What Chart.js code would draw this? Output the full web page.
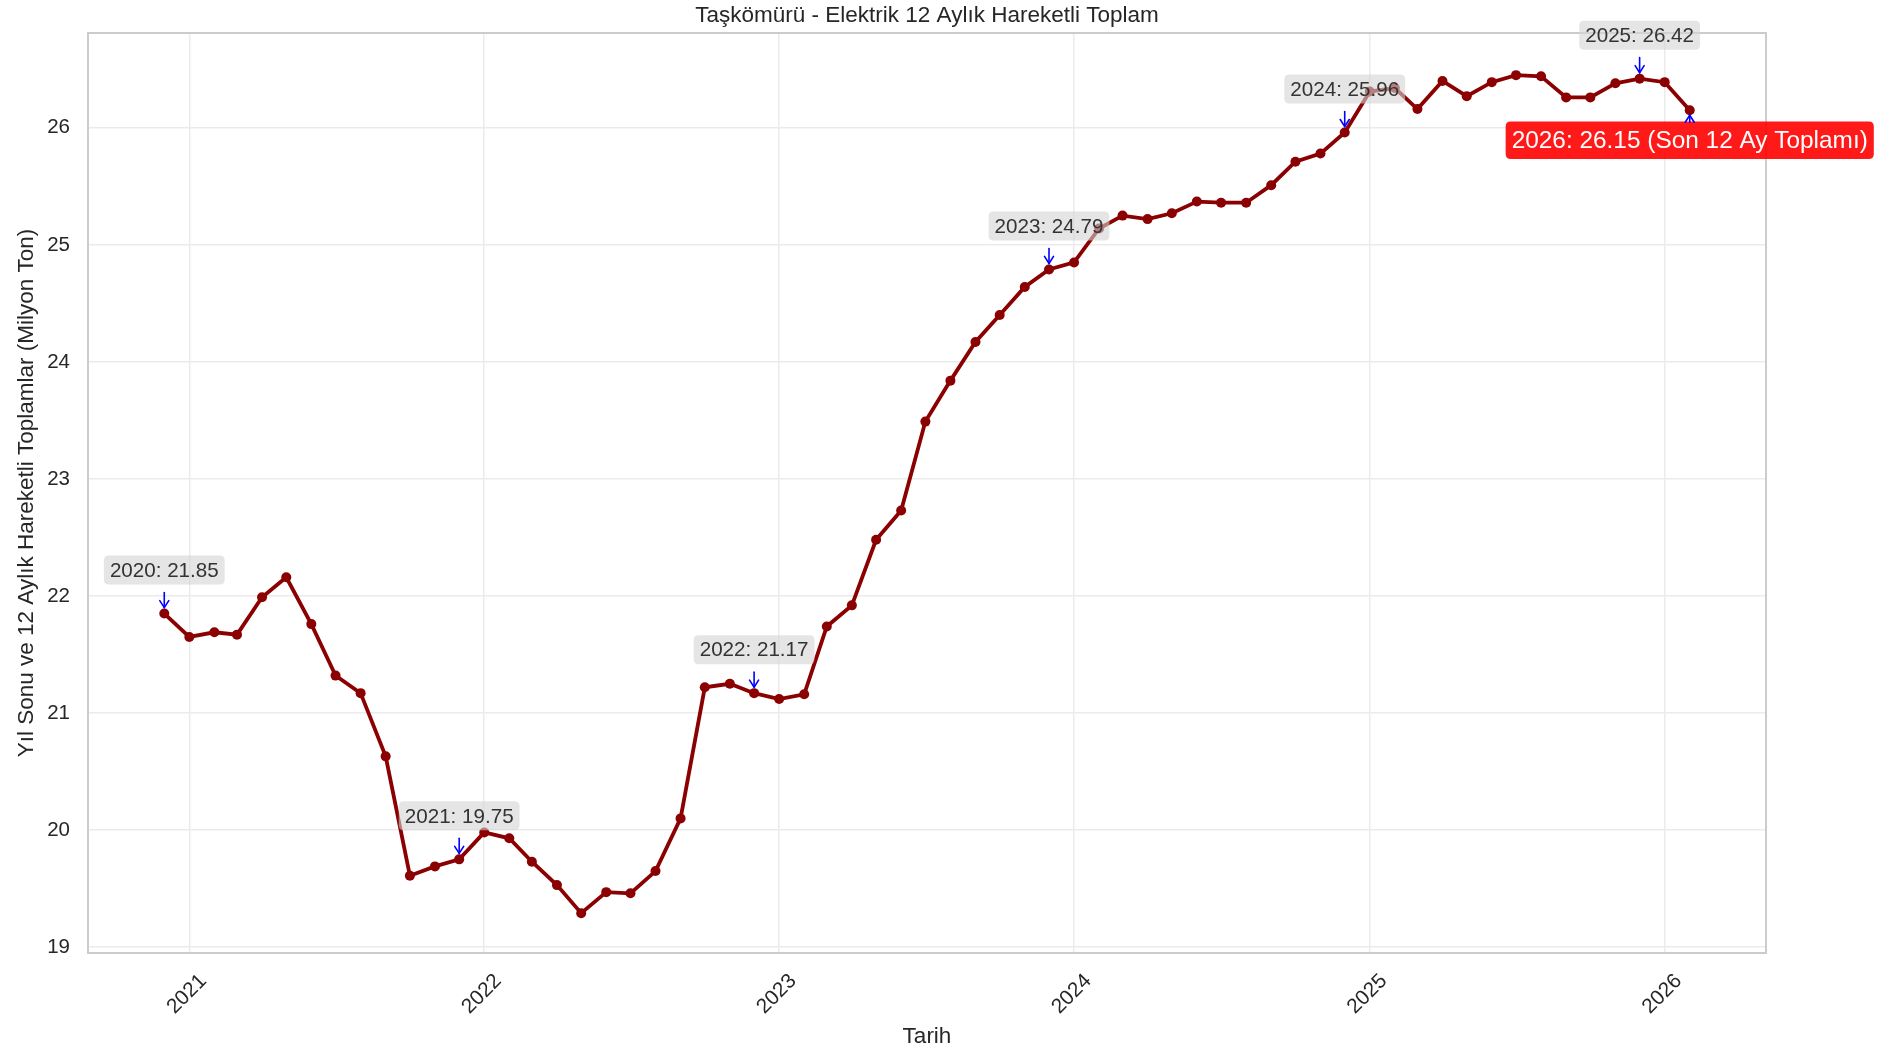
<!DOCTYPE html>
<html>
<head>
<meta charset="utf-8">
<script src="https://cdn.jsdelivr.net/npm/chart.js@4.4.1/dist/chart.umd.min.js"></script>
<style>
html,body{margin:0;padding:0;background:#ffffff;}
#wrap{width:1890px;height:1050px;position:relative;}
canvas{display:block;}
</style>
</head>
<body>
<div id="wrap"><canvas id="c" width="1890" height="1050"></canvas></div>
<script>
// ---- data ----
const months = [
  '2020-12',
  '2021-01','2021-02','2021-03','2021-04','2021-05','2021-06','2021-07','2021-08','2021-09','2021-10','2021-11','2021-12',
  '2022-01','2022-02','2022-03','2022-04','2022-05','2022-06','2022-07','2022-08','2022-09','2022-10','2022-11','2022-12',
  '2023-01','2023-02','2023-03','2023-04','2023-05','2023-06','2023-07','2023-08','2023-09','2023-10','2023-11','2023-12',
  '2024-01','2024-02','2024-03','2024-04','2024-05','2024-06','2024-07','2024-08','2024-09','2024-10','2024-11','2024-12',
  '2025-01','2025-02','2025-03','2025-04','2025-05','2025-06','2025-07','2025-08','2025-09','2025-10','2025-11','2025-12',
  '2026-01','2026-02'
];
const values = [
  21.85,
  21.65,21.69,21.67,21.99,22.16,21.76,21.32,21.17,20.63,19.61,19.69,19.75,
  19.98,19.93,19.73,19.53,19.29,19.47,19.46,19.65,20.10,21.22,21.25,21.17,
  21.12,21.16,21.74,21.92,22.48,22.73,23.49,23.84,24.17,24.40,24.64,24.79,
  24.85,25.14,25.25,25.22,25.27,25.37,25.36,25.36,25.51,25.71,25.78,25.96,
  26.31,26.34,26.16,26.40,26.27,26.39,26.45,26.44,26.26,26.26,26.38,26.42,
  26.39,26.15
];
const yearTicks = [2021, 2022, 2023, 2024, 2025, 2026];
const yTicks = [19, 20, 21, 22, 23, 24, 25, 26];
const yRange = [18.95, 26.81];
const yearEndMonths = ['2020-12','2021-12','2022-12','2023-12','2024-12','2025-12'];
const lastMonth = '2026-02';
const lastSuffix = ' (Son 12 Ay Toplamı)';

const titleText = 'Taşkömürü - Elektrik 12 Aylık Hareketli Toplam';
const xTitle = 'Tarih';
const yTitle = 'Yıl Sonu ve 12 Aylık Hareketli Toplamlar (Milyon Ton)';

// ---- helpers ----
function monthToMs(m){ const [y,mo] = m.split('-').map(Number); return Date.UTC(y, mo-1, 1); }
const points = months.map((m,i)=>({x: monthToMs(m), y: values[i]}));

const xFirst = monthToMs(months[0]), xLast = monthToMs(months[months.length-1]);
const xPad = (xLast - xFirst) * 0.05;

const FONT = "'Liberation Sans', Arial, Helvetica, sans-serif";
const TXT = '#262626';

function roundRect(ctx, x, y, w, h, r){
  ctx.beginPath();
  ctx.moveTo(x+r, y);
  ctx.lineTo(x+w-r, y); ctx.quadraticCurveTo(x+w, y, x+w, y+r);
  ctx.lineTo(x+w, y+h-r); ctx.quadraticCurveTo(x+w, y+h, x+w-r, y+h);
  ctx.lineTo(x+r, y+h); ctx.quadraticCurveTo(x, y+h, x, y+h-r);
  ctx.lineTo(x, y+r); ctx.quadraticCurveTo(x, y, x+r, y);
  ctx.closePath();
}
function arrow(ctx, x, y1, y2, color){
  const dir = Math.sign(y2 - y1) || 1;
  ctx.save();
  ctx.strokeStyle = color; ctx.lineWidth = 1.6; ctx.lineCap = 'round';
  ctx.beginPath(); ctx.moveTo(x, y1); ctx.lineTo(x, y2); ctx.stroke();
  ctx.beginPath();
  ctx.moveTo(x-4.5, y2 - dir*7); ctx.lineTo(x, y2); ctx.lineTo(x+4.5, y2 - dir*7);
  ctx.stroke();
  ctx.restore();
}
function box(ctx, text, cx, cy, fontPx, padX, h, fill, color){
  ctx.save();
  ctx.font = fontPx + 'px ' + FONT;
  const w = ctx.measureText(text).width + 2*padX;
  roundRect(ctx, cx - w/2, cy - h/2, w, h, 5);
  ctx.fillStyle = fill; ctx.fill();
  ctx.fillStyle = color; ctx.textAlign = 'center'; ctx.textBaseline = 'middle';
  ctx.fillText(text, cx, cy + 1);
  ctx.restore();
}

const deco = {
  id: 'deco',
  beforeDraw(chart){
    const ctx = chart.ctx;
    ctx.save(); ctx.fillStyle = '#ffffff'; ctx.fillRect(0,0,chart.width,chart.height); ctx.restore();
  },
  beforeDatasetsDraw(chart){
    const {ctx, chartArea:a} = chart;
    ctx.save();
    ctx.strokeStyle = '#cccccc'; ctx.lineWidth = 2;
    ctx.strokeRect(a.left, a.top, a.right - a.left, a.bottom - a.top);
    ctx.restore();
  },
  afterDatasetsDraw(chart){
    const ctx = chart.ctx;
    const xs = chart.scales.x, ys = chart.scales.y;
    yearEndMonths.forEach(m=>{
      const i = months.indexOf(m);
      const px = xs.getPixelForValue(monthToMs(m));
      const py = ys.getPixelForValue(values[i]);
      arrow(ctx, px, py - 21, py - 6, '#0000ff');
      box(ctx, m.slice(0,4) + ': ' + values[i].toFixed(2), px, py - 43.5, 20.6, 6, 29, 'rgba(211,211,211,0.6)', '#333333');
    });
    const li = months.indexOf(lastMonth);
    const lx = xs.getPixelForValue(monthToMs(lastMonth));
    const ly = ys.getPixelForValue(values[li]);
    box(ctx, lastMonth.slice(0,4) + ': ' + values[li].toFixed(2) + lastSuffix, lx, ly + 30, 24.4, 6, 37.6, 'rgba(255,0,0,0.9)', '#ffffff');
    arrow(ctx, lx, ly + 12, ly + 5, '#0000ff');
  },
  afterDraw(chart){
    const {ctx, chartArea:a} = chart;
    ctx.save();
    ctx.font = '22.5px ' + FONT; ctx.fillStyle = TXT;
    ctx.textAlign = 'center'; ctx.textBaseline = 'middle';
    ctx.fillText(titleText, (a.left + a.right)/2, 16);
    ctx.restore();
  }
};

new Chart(document.getElementById('c'), {
  type: 'line',
  data: {
    datasets: [{
      data: points,
      borderColor: '#8b0000',
      backgroundColor: '#8b0000',
      borderWidth: 3.8,
      pointRadius: 5,
      pointBorderWidth: 0,
      pointBackgroundColor: '#8b0000',
      tension: 0,
      fill: false
    }]
  },
  options: {
    responsive: false,
    animation: false,
    devicePixelRatio: 1,
    layout: { padding: { top: 33, right: 124, left: 0, bottom: 0 } },
    plugins: { legend: { display: false }, tooltip: { enabled: false }, title: { display: false } },
    scales: {
      x: {
        type: 'linear',
        min: xFirst - xPad,
        max: xLast + xPad,
        afterBuildTicks: s => { s.ticks = yearTicks.map(y => ({ value: Date.UTC(y, 0, 1) })); },
        afterFit: s => { s.height = 97; },
        grid: { color: '#ebebeb', lineWidth: 1.5, drawTicks: false },
        border: { display: false },
        ticks: {
          minRotation: 45, maxRotation: 45,
          labelOffset: 14, padding: 16,
          autoSkip: false,
          color: TXT,
          font: { family: FONT, size: 20.8 },
          callback: v => String(new Date(v).getUTCFullYear())
        },
        title: { display: true, text: xTitle, color: TXT, font: { family: FONT, size: 22.5 }, padding: { top: 0, bottom: 0 } }
      },
      y: {
        min: yRange[0],
        max: yRange[1],
        afterBuildTicks: s => { s.ticks = yTicks.map(v => ({ value: v })); },
        afterFit: s => { s.width = 88; },
        grid: { color: '#ebebeb', lineWidth: 1.5, drawTicks: false },
        border: { display: false },
        ticks: { padding: 18, color: TXT, font: { family: FONT, size: 20.5 }, callback: v => String(v) },
        title: { display: true, text: yTitle, color: TXT, font: { family: FONT, size: 22.5 }, padding: { top: 13, bottom: 0 } }
      }
    }
  },
  plugins: [deco]
});
</script>
</body>
</html>
